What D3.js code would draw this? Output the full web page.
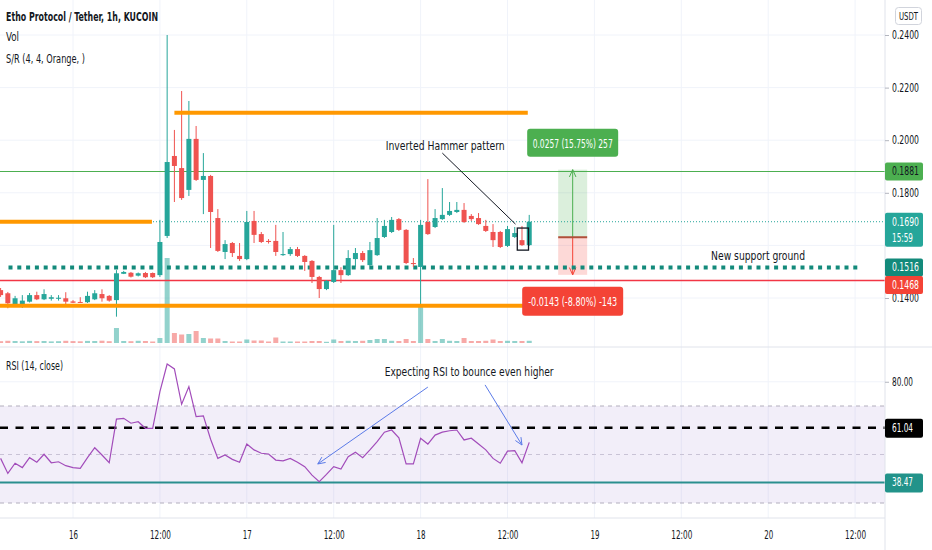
<!DOCTYPE html>
<meta charset="utf-8">
<style>
body { margin: 0; background: #fff; }
text { font-family: "Liberation Sans Narrow", "DejaVu Sans Condensed", "Liberation Sans", sans-serif; fill: #131722; }
</style>
<body>
<script src="https://cdn.jsdelivr.net/npm/d3@7"></script>
<script>

// hourly candles, first one sits 10 hours before the 16th 00:00
var firstHour = -10;

var opens = [.1430,.1418,.1377,.1377,.1386,.1411,.1395,.1397,.1397,.1399,
  .1387,.1385,.1384,.1395,.1415,.1408,.1392,.1492,.1496,.1485,
  .1495,.1495,.1487,.1636,.1940,.1894,.1811,.2005,.1849,.1864,
  .1704,.1575,.1609,.1560,.1548,.1693,.1643,.1617,.1617,.1563,
  .1567,.1586,.1560,.1541,.1480,.1434,.1461,.1506,.1487,.1548,
  .1571,.1525,.1563,.1632,.1651,.1700,.1659,.1533,.1518,.1689,
  .1670,.1700,.1716,.1727,.1735,.1712,.1704,.1674,.1651,.1651,
  .1598,.1632,.1620,.1601];
var highs = [.1438,.1423,.1408,.1411,.1419,.1424,.1433,.1411,.1411,.1422,
  .1392,.1403,.1424,.1430,.1433,.1411,.1506,.1503,.1499,.1497,
  .1499,.1497,.1697,.2400,.2039,.2187,.2149,.2054,.1951,.1868,
  .1738,.1620,.1613,.1609,.1731,.1731,.1651,.1624,.1678,.1651,
  .1594,.1594,.1563,.1544,.1484,.1468,.1678,.1517,.1582,.1590,
  .1579,.1613,.1704,.1697,.1708,.1704,.1662,.1552,.1697,.1852,
  .1738,.1818,.1765,.1765,.1761,.1719,.1723,.1697,.1681,.1655,
  .1674,.1670,.1674,.1716];
var lows = [.1404,.1361,.1370,.1362,.1383,.1392,.1392,.1390,.1390,.1377,
  .1381,.1381,.1381,.1392,.1386,.1386,.1329,.1491,.1478,.1482,
  .1476,.1476,.1480,.1628,.1765,.1773,.1788,.1845,.1719,.1590,
  .1575,.1548,.1556,.1541,.1544,.1609,.1609,.1607,.1560,.1560,
  .1560,.1556,.1503,.1457,.1400,.1430,.1457,.1457,.1484,.1518,
  .1537,.1522,.1560,.1628,.1647,.1655,.1529,.1518,.1366,.1640,
  .1666,.1697,.1712,.1723,.1685,.1693,.1678,.1651,.1594,.1590,
  .1594,.1628,.1598,.1598];
var closes = [.1411,.1380,.1399,.1390,.1411,.1395,.1415,.1403,.1401,.1386,
  .1382,.1382,.1408,.1418,.1399,.1390,.1494,.1499,.1481,.1494,
  .1479,.1479,.1613,.1917,.1902,.1780,.2005,.1849,.1864,.1727,
  .1579,.1605,.1571,.1548,.1689,.1640,.1613,.1613,.1575,.1567,
  .1586,.1560,.1537,.1480,.1434,.1465,.1506,.1487,.1552,.1571,
  .1544,.1582,.1628,.1674,.1697,.1659,.1533,.1529,.1678,.1643,
  .1704,.1716,.1731,.1735,.1689,.1700,.1681,.1655,.1620,.1594,
  .1662,.1647,.1601,.1690];
var volumes = [18,22,20,17,21,19,20,16,18,22,
  19,17,21,20,23,18,150,20,18,22,
  20,15,50,850,100,85,90,120,50,45,
  45,20,15,15,35,25,25,15,55,15,
  15,15,15,20,20,12,35,20,22,20,
  22,30,40,40,22,20,40,20,360,40,
  20,40,22,20,50,20,20,22,35,20,
  22,20,20,22];
var rsi = [48.4,42.2,46.4,44.6,48.7,46.8,50.1,46.6,47.0,45.4,
  44.6,44.3,48.7,52.8,49.8,46.6,64.6,64.9,62.9,63.5,
  60.8,60.8,75.9,87.3,85.3,70.7,78.0,65.6,65.9,56.3,
  48.4,49.8,48.0,46.8,54.3,51.9,50.5,50.2,47.7,47.4,
  48.4,46.8,45.0,41.5,38.8,41.8,45.0,44.0,49.1,50.9,
  48.7,51.9,55.3,59.2,60.1,56.9,46.1,46.1,56.7,54.3,
  58.0,59.2,59.8,60.1,56.0,56.7,54.3,51.9,48.4,46.4,
  51.4,51.6,46.6,55.0];

// axis ticks
var timeTicks = [0, 12, 24, 36, 48, 60, 72, 84, 96, 108];
var timeLabels = ["16", "12:00", "17", "12:00", "18", "12:00", "19", "12:00", "20", "12:00"];
var priceTicks = [0.14, 0.16, 0.18, 0.20, 0.22, 0.24];
var priceTickLabels = [0.14, 0.18, 0.20, 0.22, 0.24]; // 0.16 sits under the last-price badge
var rsiTicks = [80];

// drawn levels
var srLevels = [0.2104, 0.1690, 0.1371];
var srFrom = [14, -10.2, -10.2];
var srTo = [62.8, 10.9, 62.4];
var resistance = 0.1881, support = 0.1516, stopLevel = 0.1468, lastPrice = 0.1690;
var rsiUpper = 61.04, rsiLower = 38.47;
var measureStart = 0.1631, measureUp = 0.0257, measureDown = 0.0143;

// layout
var W = 932, H = 550, axisX = 885, paneSplit = 347, timeAxisY = 518;

var green = "#26a69a", red = "#ef5350";

var x = d3.scaleLinear().domain([-10, 108]).range([0.6, 855.1]);
var y = d3.scaleLinear().domain([0.14, 0.24]).range([298, 35]);
var yRsi = d3.scaleLinear().domain([30, 70]).range([503, 406]);
var yVol = d3.scaleLinear().domain([0, d3.max(volumes)]).range([343, 258]);

var candles = opens.map(function(o, i) {
  return {t: firstHour + i, o: o, h: highs[i], l: lows[i], c: closes[i], v: volumes[i], r: rsi[i]};
});

var svg = d3.select("body").append("svg")
    .attr("width", W)
    .attr("height", H);

svg.append("rect").attr("width", W).attr("height", H).attr("fill", "#fff");

// small text helper, squeezed to the width seen in the screenshot
function label(g, px, py, s, w, size, color, anchor, weight) {
  var t = g.append("text")
      .attr("x", px)
      .attr("y", py)
      .attr("text-anchor", anchor || "start")
      .style("font-size", size + "px")
      .style("fill", color || "#131722")
      .text(s);
  if (weight) t.style("font-weight", weight);
  if (w) t.attr("textLength", w).attr("lengthAdjust", "spacingAndGlyphs");
  return t;
}

function arrow(g, x1, y1, x2, y2, color) {
  var a = Math.atan2(y2 - y1, x2 - x1), L = 8, s = 0.42;
  g.append("line")
      .attr("x1", x1).attr("y1", y1).attr("x2", x2).attr("y2", y2)
      .attr("stroke", color).attr("stroke-width", 1);
  g.append("path")
      .attr("d", "M" + (x2 - L * Math.cos(a - s)) + "," + (y2 - L * Math.sin(a - s)) +
                 "L" + x2 + "," + y2 +
                 "L" + (x2 - L * Math.cos(a + s)) + "," + (y2 - L * Math.sin(a + s)))
      .attr("fill", "none").attr("stroke", color).attr("stroke-width", 1);
}

// ---------- grid ----------
var grid = svg.append("g");
grid.selectAll(".vg").data(timeTicks).join("line")
    .attr("x1", function(d) { return x(d); }).attr("x2", function(d) { return x(d); })
    .attr("y1", 0).attr("y2", timeAxisY)
    .attr("stroke", "#f0f3fa");
grid.selectAll(".hg").data(priceTicks).join("line")
    .attr("x1", 0).attr("x2", axisX)
    .attr("y1", function(d) { return y(d); }).attr("y2", function(d) { return y(d); })
    .attr("stroke", "#f0f3fa");
grid.selectAll(".rg").data(rsiTicks).join("line")
    .attr("x1", 0).attr("x2", axisX)
    .attr("y1", function(d) { return yRsi(d); }).attr("y2", function(d) { return yRsi(d); })
    .attr("stroke", "#f0f3fa");

// ---------- main pane ----------
svg.append("clipPath").attr("id", "mainClip")
  .append("rect").attr("x", 0).attr("y", 0).attr("width", axisX).attr("height", paneSplit);
var main = svg.append("g").attr("clip-path", "url(#mainClip)");

// volume
main.selectAll(".vol").data(candles).join("rect")
    .attr("x", function(d) { return x(d.t) - 2.5; })
    .attr("width", 5)
    .attr("y", function(d) { return yVol(d.v); })
    .attr("height", function(d) { return yVol(0) - yVol(d.v); })
    .attr("fill", function(d) { return d.c >= d.o ? "rgba(38,166,154,0.5)" : "rgba(239,83,80,0.5)"; });

// measuring tool
var mx0 = x(67), mx1 = x(71), mxc = x(69);
main.append("rect")
    .attr("x", mx0).attr("width", mx1 - mx0)
    .attr("y", y(measureStart + measureUp)).attr("height", y(measureStart) - y(measureStart + measureUp))
    .attr("fill", "rgba(76,175,80,0.2)");
main.append("rect")
    .attr("x", mx0).attr("width", mx1 - mx0)
    .attr("y", y(measureStart)).attr("height", y(measureStart - measureDown) - y(measureStart))
    .attr("fill", "rgba(244,67,54,0.2)");
arrow(main, mxc, y(measureStart), mxc, y(measureStart + measureUp), "#4caf50");
arrow(main, mxc, y(measureStart), mxc, y(measureStart - measureDown), "#f44336");
main.append("line")
    .attr("x1", mx0).attr("x2", mx1)
    .attr("y1", y(measureStart)).attr("y2", y(measureStart))
    .attr("stroke", "#b0503a").attr("stroke-width", 2);

// horizontal levels
main.append("line")
    .attr("x1", 0).attr("x2", axisX)
    .attr("y1", y(resistance)).attr("y2", y(resistance))
    .attr("stroke", "#4caf50").attr("stroke-width", 1.2);
main.append("line")
    .attr("x1", 0).attr("x2", axisX)
    .attr("y1", Math.round(y(stopLevel)) + 0.5).attr("y2", Math.round(y(stopLevel)) + 0.5)
    .attr("stroke", "#f23645").attr("stroke-width", 1.3);
main.append("line")
    .attr("x1", 0).attr("x2", axisX)
    .attr("y1", y(lastPrice)).attr("y2", y(lastPrice))
    .attr("stroke", green).attr("stroke-width", 1).attr("stroke-dasharray", "1,2");
main.append("line")
    .attr("x1", 8.5).attr("x2", x(108.6))
    .attr("y1", y(support)).attr("y2", y(support))
    .attr("stroke", "#138a7b").attr("stroke-width", 4).attr("stroke-dasharray", "4,4.8");

// candles
var cg = main.selectAll(".candle").data(candles).join("g");
cg.append("line")
    .attr("x1", function(d) { return x(d.t); }).attr("x2", function(d) { return x(d.t); })
    .attr("y1", function(d) { return y(d.h); }).attr("y2", function(d) { return y(d.l); })
    .attr("stroke", function(d) { return d.c >= d.o ? green : red; })
    .attr("stroke-width", 1);
cg.append("rect")
    .attr("x", function(d) { return x(d.t) - 2.5; })
    .attr("width", 5)
    .attr("y", function(d) { return y(Math.max(d.o, d.c)); })
    .attr("height", function(d) { return Math.max(1, Math.abs(y(d.o) - y(d.c))); })
    .attr("fill", function(d) { return d.c >= d.o ? green : red; });

// support / resistance (orange)
main.selectAll(".sr").data(srLevels).join("line")
    .attr("x1", function(d, i) { return x(srFrom[i]); })
    .attr("x2", function(d, i) { return x(srTo[i]); })
    .attr("y1", function(d) { return y(d); }).attr("y2", function(d) { return y(d); })
    .attr("stroke", "#ff9800").attr("stroke-width", 4);

// inverted hammer annotation
main.append("rect")
    .attr("x", x(61.35)).attr("width", x(62.9) - x(61.35))
    .attr("y", y(0.1666)).attr("height", y(0.1582) - y(0.1666))
    .attr("fill", "none").attr("stroke", "#131722").attr("stroke-width", 1.3);
main.append("line")
    .attr("x1", x(51)).attr("y1", y(0.1951))
    .attr("x2", x(61.1)).attr("y2", y(0.1681))
    .attr("stroke", "#131722").attr("stroke-width", 1);
label(main, x(51.4), y(0.1963), "Inverted Hammer pattern", 119, 13, "#131722", "middle");
label(main, x(94.6), y(0.1544), "New support ground", 94, 13, "#131722", "middle");

// measure labels
var gb = main.append("g");
gb.append("rect").attr("x", mxc - 45.5).attr("width", 91)
    .attr("y", y(measureStart + measureUp) - 41).attr("height", 28).attr("rx", 3)
    .attr("fill", "#4caf50");
label(gb, mxc, y(measureStart + measureUp) - 22, "0.0257 (15.75%) 257", 80, 13, "#fff", "middle");
gb.append("rect").attr("x", mxc - 50.5).attr("width", 101)
    .attr("y", y(measureStart - measureDown) + 12).attr("height", 29).attr("rx", 3)
    .attr("fill", "#f44336");
label(gb, mxc, y(measureStart - measureDown) + 31, "-0.0143 (-8.80%) -143", 89, 13, "#fff", "middle");

// legend
label(svg, 6, 21, "Etho Protocol / Tether, 1h, KUCOIN", 152, 13, "#131722", "start", "bold");
label(svg, 6, 41, "Vol", 13, 13);
label(svg, 6, 63, "S/R (4, 4, Orange, )", 79, 13);

// ---------- RSI pane ----------
var rp = svg.append("g");
rp.append("rect")
    .attr("x", 0).attr("width", axisX)
    .attr("y", yRsi(70)).attr("height", yRsi(30) - yRsi(70))
    .attr("fill", "rgba(126,87,194,0.1)");
rp.selectAll(".band").data([70, 50, 30]).join("line")
    .attr("x1", 0).attr("x2", axisX)
    .attr("y1", function(d) { return yRsi(d); }).attr("y2", function(d) { return yRsi(d); })
    .attr("stroke", function(d) { return d === 50 ? "#c9c3d6" : "#b2aebd"; })
    .attr("stroke-dasharray", "4,4");
rp.append("line")
    .attr("x1", 0).attr("x2", axisX)
    .attr("y1", yRsi(rsiUpper)).attr("y2", yRsi(rsiUpper))
    .attr("stroke", "#000").attr("stroke-width", 2.5).attr("stroke-dasharray", "8,7.5");
rp.append("line")
    .attr("x1", 0).attr("x2", axisX)
    .attr("y1", yRsi(rsiLower)).attr("y2", yRsi(rsiLower))
    .attr("stroke", "#2a8f8f").attr("stroke-width", 2);

var rsiLine = d3.line()
    .x(function(d) { return x(d.t); })
    .y(function(d) { return yRsi(d.r); });
rp.append("path")
    .datum(candles)
    .attr("d", rsiLine)
    .attr("fill", "none")
    .attr("stroke", "#a24cba")
    .attr("stroke-width", 1.2);

label(rp, 6, 370, "RSI (14, close)", 57, 12.5);
label(rp, x(54.7), yRsi(82.4), "Expecting RSI to bounce even higher", 169, 13, "#131722", "middle");
arrow(rp, x(49), yRsi(77.8), x(33.8), yRsi(46.1), "#5b7be8");
arrow(rp, x(56.9), yRsi(78.7), x(62), yRsi(53.9), "#5b7be8");

// ---------- axes ----------
svg.append("line").attr("x1", 0).attr("x2", W).attr("y1", paneSplit).attr("y2", paneSplit)
    .attr("stroke", "#e0e3eb");
svg.append("line").attr("x1", axisX).attr("x2", axisX).attr("y1", 0).attr("y2", H)
    .attr("stroke", "#e0e3eb");

var pAxis = svg.append("g")
    .attr("transform", "translate(" + axisX + ",0)")
    .call(d3.axisRight(y).tickValues(priceTickLabels).tickFormat(d3.format(".4f")).tickSize(4).tickPadding(3));
pAxis.select(".domain").remove();
pAxis.selectAll("line").attr("stroke", "#b2b5be");
pAxis.selectAll("text").style("font-size", "11.5px").style("fill", "#131722")
    .attr("textLength", 27).attr("lengthAdjust", "spacingAndGlyphs");

var rAxis = svg.append("g")
    .attr("transform", "translate(" + axisX + ",0)")
    .call(d3.axisRight(yRsi).tickValues(rsiTicks).tickFormat(d3.format(".2f")).tickSize(4).tickPadding(3));
rAxis.select(".domain").remove();
rAxis.selectAll("line").attr("stroke", "#b2b5be");
rAxis.selectAll("text").style("font-size", "11.5px").style("fill", "#131722")
    .attr("textLength", 21).attr("lengthAdjust", "spacingAndGlyphs");

var tAxis = svg.append("g")
    .attr("transform", "translate(0," + timeAxisY + ")")
    .call(d3.axisBottom(x).tickValues(timeTicks)
      .tickFormat(function(d, i) { return timeLabels[i]; }).tickSize(0).tickPadding(12));
tAxis.select(".domain").attr("stroke", "#e0e3eb").attr("d", "M0,0H" + axisX);
tAxis.selectAll("text").style("font-size", "12px").style("fill", "#131722")
    .each(function(d, i) {
      d3.select(this).attr("textLength", timeLabels[i].length > 2 ? 21 : 9)
        .attr("lengthAdjust", "spacingAndGlyphs");
    });

// price scale badges
function badge(py, h, fill, lines, color) {
  var g = svg.append("g");
  g.append("rect").attr("x", axisX).attr("width", 38).attr("y", py - 9).attr("height", h)
      .attr("rx", 2).attr("fill", fill);
  lines.forEach(function(s, i) {
    label(g, axisX + 7, py + 4 + i * 16, s, s.length > 5 ? 27 : 21, 11.5, color);
  });
}
badge(y(resistance), 18, "#4caf50", [d3.format(".4f")(resistance)], "#131722");
badge(y(lastPrice), 34, green, [d3.format(".4f")(lastPrice), "15:59"], "#fff");
badge(y(support), 18, "#138a7b", [d3.format(".4f")(support)], "#fff");
badge(y(stopLevel) + 5, 18, "#f44336", [d3.format(".4f")(stopLevel)], "#fff");
badge(yRsi(rsiUpper), 19, "#000", [d3.format(".2f")(rsiUpper)], "#fff");
badge(yRsi(rsiLower), 19, "#22938a", [d3.format(".2f")(rsiLower)], "#fff");

// currency box
svg.append("rect").attr("x", 895.5).attr("y", 7.5).attr("width", 26).attr("height", 17)
    .attr("rx", 3).attr("fill", "#fff").attr("stroke", "#d1d4dc");
label(svg, 908.5, 20, "USDT", 19, 10, "#131722", "middle");

</script>
</body>
